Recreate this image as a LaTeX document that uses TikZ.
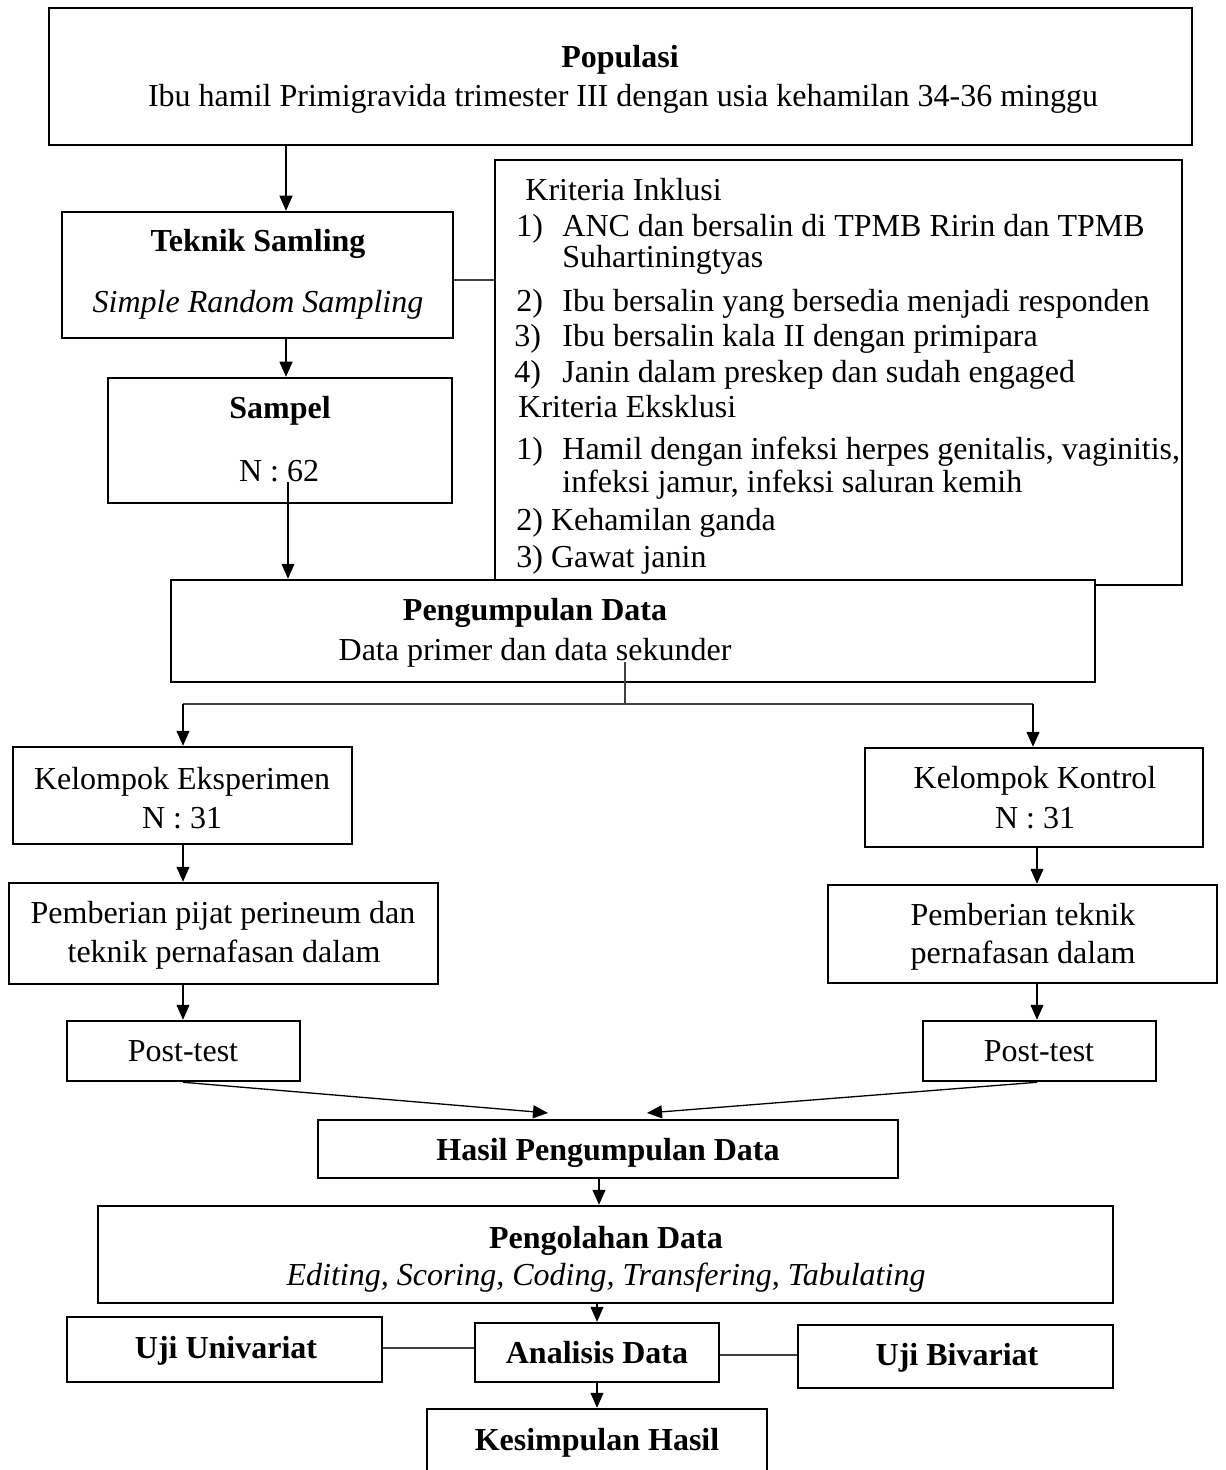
\documentclass[tikz,border=0pt]{standalone}
\usepackage{fontspec}
\setmainfont{Liberation Serif}
\usetikzlibrary{arrows.meta}
\begin{document}
\begin{tikzpicture}[x=0.5pt,y=-0.5pt,
  box/.style={draw=black, fill=white, line width=1.25pt, inner sep=0pt},
  txt/.style={inner sep=0pt, anchor=base, font=\fontsize{16}{19}\selectfont},
  ltxt/.style={txt, anchor=base west},
  conn/.style={line width=0.65pt, draw=black!75},
  arr/.style={line width=0.65pt, draw=black, -{Triangle[length=7.5pt,width=6.5pt]}}]
\newcommand\mkbox[5]{\node[box,minimum width={(#4-#2)*0.5pt},minimum height={(#5-#3)*0.5pt}] (#1) at ({(#2+#4)/2},{(#3+#5)/2}) {};}
\useasboundingbox (0,0) rectangle (1225,1470);
% boxes
\mkbox{pop}{49}{8}{1192}{145}
\mkbox{tek}{62}{212}{453}{338}
\mkbox{sam}{108}{378}{452}{503}
\mkbox{crit}{495}{160}{1182}{585}
\mkbox{peng}{171}{580}{1095}{682}
\mkbox{ke}{13}{747}{352}{844}
\mkbox{kk}{865}{748}{1203}{847}
\mkbox{pl}{9}{883}{438}{984}
\mkbox{pr}{828}{885}{1217}{983}
\mkbox{pta}{67}{1021}{300}{1081}
\mkbox{ptb}{923}{1021}{1156}{1081}
\mkbox{has}{318}{1120}{898}{1178}
\mkbox{olah}{98}{1206}{1113}{1303}
\mkbox{uni}{67}{1317}{382}{1382}
\mkbox{ana}{475}{1323}{719}{1382}
\mkbox{biv}{798}{1325}{1113}{1388}
\mkbox{kes}{427}{1409}{767}{1490}
% texts
\node[txt,font=\fontsize{16}{19}\selectfont\bfseries] (popt1) at (620,68) {Populasi};
\node[txt] (popt2) at (623,107) {Ibu hamil Primigravida trimester III dengan usia kehamilan 34-36 minggu};
\node[txt,font=\fontsize{16}{19}\selectfont\bfseries] (tekt1) at (258,252) {Teknik Samling};
\node[txt,font=\fontsize{16}{19}\selectfont\itshape] (tekt2) at (258,313) {Simple Random Sampling};
\node[txt,font=\fontsize{16}{19}\selectfont\bfseries] (samt1) at (280,419) {Sampel};
\node[txt] (samt2) at (279,481) {N : 62};
\node[ltxt] (c0) at (525,201) {Kriteria Inklusi};
\node[ltxt] (c1n) at (516,237) {1)};
\node[ltxt] (c1) at (562,237) {ANC dan bersalin di TPMB Ririn dan TPMB};
\node[ltxt] (c1b) at (562,268) {Suhartiningtyas};
\node[ltxt] (c2n) at (516,312) {2)};
\node[ltxt] (c2) at (562,312) {Ibu bersalin yang bersedia menjadi responden};
\node[ltxt] (c3n) at (514,347) {3)};
\node[ltxt] (c3) at (562,347) {Ibu bersalin kala II dengan primipara};
\node[ltxt] (c4n) at (514,383) {4)};
\node[ltxt] (c4) at (562,383) {Janin dalam preskep dan sudah engaged};
\node[ltxt] (e0) at (518,418) {Kriteria Eksklusi};
\node[ltxt] (e1n) at (516,459) {1)};
\node[ltxt] (e1) at (562,459) {Hamil dengan infeksi herpes genitalis, vaginitis,};
\node[ltxt] (e1b) at (562,492) {infeksi jamur, infeksi saluran kemih};
\node[ltxt] (e2) at (516,530) {2) Kehamilan ganda};
\node[ltxt] (e3) at (516,567) {3) Gawat janin};
\node[txt,font=\fontsize{16}{19}\selectfont\bfseries] (pengt1) at (535,620) {Pengumpulan Data};
\node[txt] (pengt2) at (535,660) {Data primer dan data sekunder};
\node[txt] (ket1) at (182,789) {Kelompok Eksperimen};
\node[txt] (ket2) at (182,828) {N : 31};
\node[txt] (kkt1) at (1035,788) {Kelompok Kontrol};
\node[txt] (kkt2) at (1035,828) {N : 31};
\node[txt] (plt1) at (223,923) {Pemberian pijat perineum dan};
\node[txt] (plt2) at (224,962) {teknik pernafasan dalam};
\node[txt] (prt1) at (1023,925) {Pemberian teknik};
\node[txt] (prt2) at (1023,963) {pernafasan dalam};
\node[txt] (ptat) at (183,1061) {Post-test};
\node[txt] (ptbt) at (1039,1061) {Post-test};
\node[txt,font=\fontsize{16}{19}\selectfont\bfseries] (hast) at (608,1160) {Hasil Pengumpulan Data};
\node[txt,font=\fontsize{16}{19}\selectfont\bfseries] (olaht1) at (606,1248) {Pengolahan Data};
\node[txt,font=\fontsize{16}{19}\selectfont\itshape] (olaht2) at (606,1285) {Editing, Scoring, Coding, Transfering, Tabulating};
\node[txt,font=\fontsize{16}{19}\selectfont\bfseries] (unit) at (226,1358) {Uji Univariat};
\node[txt,font=\fontsize{16}{19}\selectfont\bfseries] (anat) at (597,1363) {Analisis Data};
\node[txt,font=\fontsize{16}{19}\selectfont\bfseries] (bivt) at (957,1365) {Uji Bivariat};
\node[txt,font=\fontsize{16}{19}\selectfont\bfseries] (kest) at (597,1450) {Kesimpulan Hasil};
% helper coordinates
\coordinate (xa) at (286,0);
\coordinate (ya) at (0,280);
\coordinate (samout) at (288,482);
\coordinate (pengout) at (625,662);
\coordinate (ys) at (0,704);
\coordinate (xl) at (183,0);
\coordinate (xr) at (1037,0);
\coordinate (xk) at (1033,0);
\coordinate (ha) at (548,1113);
\coordinate (hb) at (647,1113);
\coordinate (xg) at (599,0);
\coordinate (xh) at (597,0);
\coordinate (yu) at (0,1348);
\coordinate (yb) at (0,1355);
% connectors
\draw[arr] (xa |- pop.south) -- (xa |- tek.north);
\draw[conn] (tek.east |- ya) -- (crit.west |- ya);
\draw[arr] (xa |- tek.south) -- (xa |- sam.north);
\draw[arr] (samout) -- (samout |- peng.north);
\draw[conn] (pengout) -- (pengout |- ys);
\draw[conn] (xl |- ys) -- (xk |- ys);
\draw[arr] (xl |- ys) -- (xl |- ke.north);
\draw[arr] (xk |- ys) -- (xk |- kk.north);
\draw[arr] (xl |- ke.south) -- (xl |- pl.north);
\draw[arr] (xl |- pl.south) -- (xl |- pta.north);
\draw[arr] (xr |- kk.south) -- (xr |- pr.north);
\draw[arr] (xr |- pr.south) -- (xr |- ptb.north);
\draw[arr] (xl |- pta.south) -- (ha);
\draw[arr] (xr |- ptb.south) -- (hb);
\draw[arr] (xg |- has.south) -- (xg |- olah.north);
\draw[arr] (xh |- olah.south) -- (xh |- ana.north);
\draw[conn] (uni.east |- yu) -- (ana.west |- yu);
\draw[conn] (ana.east |- yb) -- (biv.west |- yb);
\draw[arr] (xh |- ana.south) -- (xh |- kes.north);
\end{tikzpicture}
\end{document}
